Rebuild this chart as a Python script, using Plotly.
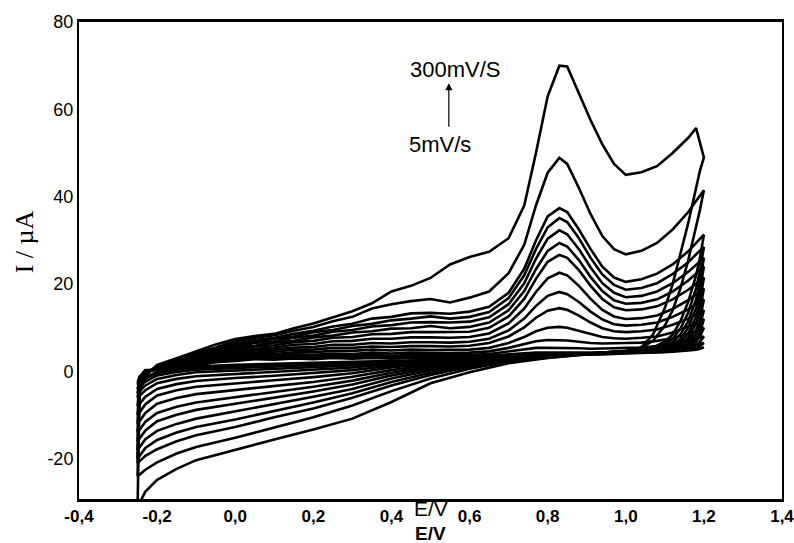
import plotly.graph_objects as go

# Potential grids (V) shared by all scans
E_fwd = [-0.25, -0.245, -0.23, -0.2, -0.15, -0.1, -0.05, 0.0, 0.05, 0.1, 0.15, 0.2, 0.25, 0.3,
         0.35, 0.4, 0.45, 0.5, 0.55, 0.6, 0.65, 0.7, 0.74, 0.77, 0.8, 0.83, 0.85, 0.88, 0.91,
         0.94, 0.97, 1.0, 1.04, 1.08, 1.12, 1.16, 1.18, 1.2]
E_rev = [1.2, 1.19, 1.18, 1.16, 1.14, 1.12, 1.1, 1.07, 1.04, 1.0, 0.95, 0.9, 0.85, 0.8, 0.7,
         0.6, 0.5, 0.4, 0.3, 0.2, 0.1, 0.0, -0.1, -0.15, -0.2, -0.23, -0.25]

scan_rates = [300, 200, 150, 125, 100, 90, 80, 70, 60, 50, 40, 30, 20, 10, 5]  # mV/s

# Anodic (forward) currents, µA
fwd_300 = [-31, -5, -1, 1.5, 3.0, 4.6, 6.2, 7.4, 8.1, 8.6, 9.9, 11.0, 12.4, 13.8, 15.6, 18.3, 19.6, 21.4, 24.5, 26.2, 27.4, 30.5, 38, 50, 63, 70, 69.8, 63.5, 57.5, 52, 47.5, 45, 45.6, 47, 50, 53.5, 55.7, 49]
fwd_200 = [-24, -4, -0.8, 1.3, 2.8, 4.3, 5.5, 6.9, 7.7, 8.3, 9.3, 10.2, 11.5, 12.5, 14.4, 15.4, 16.1, 16.6, 15.8, 16.9, 18.3, 22.5, 29, 38, 45.5, 48.9, 47.5, 42, 36, 31, 28, 26.8, 27.6, 29.4, 32.5, 36.5, 39, 41.5]
fwd_150 = [-21, -3.5, -0.7, 1.2, 2.6, 3.9, 5.3, 6.4, 7.2, 7.7, 8.6, 9.3, 10.3, 10.9, 12.1, 12.5, 13.3, 13.4, 13.2, 13.7, 14.8, 18, 23.5, 30, 35.5, 37.4, 36.5, 32.5, 28, 24, 21.5, 20.5, 21.1, 22.4, 24.5, 27.5, 29.5, 31.3]
fwd_125 = [-20, -3.3, -0.6, 1.1, 2.5, 3.7, 4.9, 6.2, 6.7, 7.5, 8.0, 9.0, 9.5, 10.4, 10.9, 11.7, 12.1, 12.6, 12.1, 12.5, 13.6, 16.8, 22, 28, 33, 35.1, 34.2, 30.5, 26, 22.2, 19.8, 18.7, 19.1, 20.2, 22.3, 25, 26.8, 28.5]
fwd_100 = [-18, -3.1, -0.5, 1.0, 2.3, 3.5, 4.7, 5.7, 6.5, 6.9, 7.7, 8.2, 9.1, 9.5, 10.3, 10.6, 11.2, 11.3, 11.2, 11.4, 12.4, 15.4, 20.2, 25.8, 30.4, 32.3, 31.4, 28, 23.8, 20.2, 18, 17, 17.3, 18.3, 20.2, 22.8, 24.5, 26]
fwd_90 = [-16, -2.9, -0.4, 0.9, 2.1, 3.3, 4.2, 5.5, 5.9, 6.6, 7.0, 7.8, 8.2, 8.9, 9.2, 9.8, 9.9, 10.4, 9.9, 10.2, 11.2, 14, 18.4, 23.4, 27.6, 29.4, 28.6, 25.5, 21.6, 18.4, 16.3, 15.5, 15.7, 16.5, 18.3, 20.8, 22.4, 24]
fwd_80 = [-14, -2.7, -0.3, 0.8, 2.0, 3.1, 4.2, 5.0, 5.7, 6.0, 6.7, 7.0, 7.7, 7.9, 8.5, 8.6, 9.0, 9.0, 9.0, 9.1, 10.0, 12.6, 16.6, 21.2, 25.1, 26.7, 26.0, 23.2, 19.6, 16.6, 14.7, 14, 14.2, 14.9, 16.5, 18.7, 20.1, 21.5]
fwd_70 = [-12, -2.5, -0.2, 0.7, 1.8, 2.8, 3.9, 4.6, 5.2, 5.5, 6.1, 6.3, 6.9, 7.0, 7.5, 7.5, 7.8, 7.8, 7.7, 7.9, 8.7, 11, 14.4, 18.2, 21.3, 22.6, 22, 19.6, 16.6, 14.1, 12.6, 12, 12.2, 12.8, 14.3, 16.3, 17.6, 19]
fwd_60 = [-10, -2.3, -0.1, 0.6, 1.6, 2.5, 3.5, 4.2, 4.8, 5.0, 5.5, 5.6, 6.1, 6.1, 6.5, 6.4, 6.7, 6.7, 6.6, 6.8, 7.5, 9.4, 12.1, 15, 17.3, 18.2, 17.7, 15.9, 13.7, 11.9, 10.8, 10.5, 10.7, 11.2, 12.5, 14.2, 15.3, 16.5]
fwd_50 = [-8, -2.1, 0, 0.6, 1.5, 2.3, 3.2, 3.8, 4.3, 4.5, 5.0, 5.0, 5.4, 5.4, 5.7, 5.6, 5.8, 5.8, 5.7, 5.9, 6.5, 8.0, 10.1, 12.3, 13.9, 14.5, 14.1, 12.8, 11.2, 9.9, 9.2, 9, 9.2, 9.6, 10.7, 12.1, 13, 14]
fwd_40 = [-6, -1.9, 0.1, 0.5, 1.3, 2.0, 2.9, 3.4, 3.9, 4.0, 4.4, 4.4, 4.7, 4.7, 5.0, 4.8, 5.0, 4.9, 4.9, 5.0, 5.4, 6.5, 7.9, 9.2, 10.0, 10.2, 10.0, 9.3, 8.5, 7.9, 7.6, 7.5, 7.7, 8.0, 8.9, 10.2, 11, 12]
fwd_30 = [-5, -1.8, 0.1, 0.5, 1.2, 1.9, 2.6, 3.1, 3.5, 3.5, 3.9, 3.8, 4.1, 4.0, 4.3, 4.1, 4.3, 4.2, 4.2, 4.3, 4.6, 5.4, 6.3, 6.9, 7.2, 7.2, 7.1, 6.8, 6.5, 6.4, 6.4, 6.5, 6.6, 7.0, 7.6, 8.6, 9.2, 10]
fwd_20 = [-4, -1.6, 0.2, 0.4, 1.1, 1.7, 2.4, 2.8, 3.2, 3.2, 3.5, 3.4, 3.7, 3.5, 3.8, 3.6, 3.8, 3.7, 3.7, 3.8, 4.0, 4.6, 5.1, 5.4, 5.4, 5.4, 5.4, 5.3, 5.2, 5.2, 5.3, 5.4, 5.5, 5.8, 6.3, 7.0, 7.5, 8]
fwd_10 = [-3, -1.4, 0.2, 0.4, 1.0, 1.6, 2.2, 2.6, 3.0, 2.9, 3.2, 3.1, 3.3, 3.2, 3.4, 3.2, 3.4, 3.3, 3.4, 3.4, 3.6, 3.9, 4.2, 4.3, 4.3, 4.3, 4.3, 4.3, 4.3, 4.3, 4.4, 4.5, 4.6, 4.8, 5.2, 5.7, 6.1, 6.5]
fwd_5 = [-2.5, -1.2, 0.3, 0.4, 0.9, 1.5, 2.1, 2.4, 2.8, 2.7, 3.0, 2.8, 3.1, 2.9, 3.1, 3.0, 3.2, 3.0, 3.2, 3.2, 3.3, 3.5, 3.7, 3.8, 3.8, 3.8, 3.8, 3.8, 3.9, 3.9, 4.0, 4.1, 4.2, 4.4, 4.6, 5.0, 5.2, 5.5]

# Cathodic (reverse) currents, µA
rev_300 = [49, 46, 42, 34, 27, 20, 14.5, 8.5, 5.5, 4.6, 4.3, 3.9, 3.5, 3.1, 1.9, -0.2, -2.7, -7.0, -10.8, -13.3, -15.6, -18, -20.3, -22.3, -24.8, -27.5, -31]
rev_200 = [41.5, 37, 33, 25.5, 19, 14, 10.5, 7, 5.5, 4.7, 4.4, 4.0, 3.6, 3.2, 2.3, 0.6, -1.6, -4.5, -7.8, -10.5, -12.8, -15.2, -17.3, -18.8, -20.8, -22.5, -24]
rev_150 = [31.3, 26, 22, 16, 11.5, 8.5, 6.8, 5.5, 4.9, 4.6, 4.4, 4.0, 3.7, 3.3, 2.5, 1.1, -0.8, -3.2, -6.0, -8.5, -10.5, -12.7, -14.6, -16, -17.8, -19.3, -21]
rev_125 = [28.5, 23, 19, 13.5, 9.8, 7.5, 6.2, 5.2, 4.8, 4.6, 4.4, 4.1, 3.7, 3.3, 2.6, 1.4, -0.3, -2.4, -5.0, -7.1, -9.0, -11, -12.7, -14, -15.7, -17.5, -20]
rev_100 = [26, 20.5, 16.5, 11.5, 8.5, 6.7, 5.7, 5.0, 4.7, 4.6, 4.4, 4.1, 3.8, 3.4, 2.7, 1.7, 0.2, -1.6, -4.0, -5.8, -7.5, -9.2, -10.8, -12, -13.6, -15.5, -18]
rev_90 = [24, 18.5, 14.5, 10, 7.5, 6.1, 5.4, 4.9, 4.7, 4.6, 4.4, 4.1, 3.8, 3.4, 2.8, 1.9, 0.6, -0.9, -3.0, -4.6, -6.0, -7.4, -8.8, -9.9, -11.4, -13.5, -16]
rev_80 = [21.5, 16, 12.5, 8.7, 6.8, 5.7, 5.2, 4.8, 4.6, 4.5, 4.3, 4.1, 3.8, 3.5, 2.9, 2.1, 1.0, -0.3, -2.1, -3.5, -4.7, -5.9, -7.1, -8.1, -9.5, -11.5, -14]
rev_70 = [19, 14, 11, 7.8, 6.2, 5.4, 5.0, 4.7, 4.6, 4.5, 4.3, 4.1, 3.9, 3.5, 3.0, 2.3, 1.4, 0.3, -1.2, -2.4, -3.3, -4.2, -5.2, -6.1, -7.4, -9.5, -12]
rev_60 = [16.5, 12, 9.5, 7, 5.8, 5.2, 4.9, 4.7, 4.6, 4.5, 4.3, 4.1, 3.9, 3.6, 3.1, 2.5, 1.8, 0.9, -0.4, -1.3, -2.0, -2.7, -3.5, -4.3, -5.5, -7.5, -10]
rev_50 = [14, 10.5, 8.5, 6.4, 5.5, 5.0, 4.8, 4.6, 4.5, 4.4, 4.3, 4.1, 3.9, 3.6, 3.2, 2.6, 2.0, 1.3, 0.3, -0.4, -1.0, -1.5, -2.2, -2.9, -4.0, -5.8, -8]
rev_40 = [12, 9, 7.5, 6.0, 5.3, 4.9, 4.7, 4.6, 4.5, 4.4, 4.3, 4.1, 3.9, 3.7, 3.2, 2.7, 2.2, 1.7, 0.9, 0.4, -0.1, -0.5, -1.1, -1.7, -2.7, -4.3, -6]
rev_30 = [10, 8, 6.8, 5.6, 5.1, 4.8, 4.6, 4.5, 4.4, 4.4, 4.2, 4.0, 3.9, 3.7, 3.3, 2.8, 2.4, 2.0, 1.4, 1.0, 0.6, 0.3, -0.2, -0.8, -1.7, -3.2, -5]
rev_20 = [8, 6.8, 6.0, 5.3, 4.9, 4.7, 4.6, 4.5, 4.4, 4.3, 4.2, 4.0, 3.9, 3.7, 3.3, 2.9, 2.5, 2.2, 1.8, 1.5, 1.1, 0.8, 0.4, -0.1, -0.9, -2.3, -4]
rev_10 = [6.5, 5.8, 5.4, 5.0, 4.8, 4.6, 4.5, 4.4, 4.3, 4.2, 4.1, 4.0, 3.8, 3.7, 3.3, 2.9, 2.6, 2.3, 2.0, 1.8, 1.5, 1.2, 0.8, 0.4, -0.4, -1.7, -3]
rev_5 = [5.5, 5.2, 5.0, 4.8, 4.6, 4.5, 4.4, 4.3, 4.2, 4.1, 4.0, 3.9, 3.7, 3.6, 3.2, 2.9, 2.6, 2.4, 2.2, 2.0, 1.8, 1.5, 1.1, 0.7, -0.1, -1.3, -2.5]

forward = [fwd_300, fwd_200, fwd_150, fwd_125, fwd_100, fwd_90, fwd_80, fwd_70,
           fwd_60, fwd_50, fwd_40, fwd_30, fwd_20, fwd_10, fwd_5]
reverse = [rev_300, rev_200, rev_150, rev_125, rev_100, rev_90, rev_80, rev_70,
           rev_60, rev_50, rev_40, rev_30, rev_20, rev_10, rev_5]

x_ticks = [-0.4, -0.2, 0.0, 0.2, 0.4, 0.6, 0.8, 1.0, 1.2, 1.4]
x_ticktext = ["-0,4", "-0,2", "0,0", "0,2", "0,4", "0,6", "0,8", "1,0", "1,2", "1,4"]
y_ticks = [-20, 0, 20, 40, 60, 80]
y_ticktext = ["-20", "0", "20", "40", "60", "80"]

fig = go.Figure()
for rate, f, r in zip(scan_rates, forward, reverse):
    assert len(f) == len(E_fwd) and len(r) == len(E_rev)
    fig.add_trace(go.Scatter(
        x=E_fwd + E_rev, y=f + r, mode="lines", name=f"{rate} mV/s",
        line=dict(color="black", width=2.6), showlegend=False, hoverinfo="skip",
    ))

SANS = "Liberation Sans, Arial, sans-serif"
fig.update_layout(
    width=794, height=543,
    margin=dict(l=79, r=12, t=22, b=44),
    paper_bgcolor="white", plot_bgcolor="white",
    font=dict(family=SANS, color="black"),
    xaxis=dict(range=[-0.4, 1.4], tickvals=x_ticks,
               ticktext=[f"<b>{t}</b>" for t in x_ticktext],
               tickfont=dict(size=17, family=SANS, color="black"),
               ticklabeloverflow="allow",
               showline=True, linecolor="black", linewidth=2.5, mirror=True,
               showgrid=False, zeroline=False, ticks="", automargin=False),
    yaxis=dict(range=[-29.2, 80], tickvals=y_ticks, ticktext=y_ticktext,
               tickfont=dict(size=18, family=SANS, color="black"),
               showline=True, linecolor="black", linewidth=2, mirror=True,
               showgrid=False, zeroline=False, ticks="", automargin=False),
    annotations=[
        dict(x=0.547, y=66.0, ax=0.547, ay=55.7, xref="x", yref="y", axref="x", ayref="y",
             text="", showarrow=True, arrowhead=2, arrowsize=1.2, arrowwidth=1.2,
             arrowcolor="black"),
        dict(x=0.563, y=69.2, xref="x", yref="y", text="300mV/S", showarrow=False,
             font=dict(size=22, family=SANS, color="black")),
        dict(x=0.524, y=51.9, xref="x", yref="y", text="5mV/s", showarrow=False,
             font=dict(size=22, family=SANS, color="black")),
        dict(x=0.5, y=-0.02, xref="paper", yref="paper", yanchor="middle", xanchor="center",
             text="E/V", showarrow=False, font=dict(size=21, family=SANS, color="black")),
        dict(x=0.5, y=-0.073, xref="paper", yref="paper", yanchor="middle", xanchor="center",
             text="<b>E/V</b>", showarrow=False, font=dict(size=19, family=SANS, color="black")),
        dict(x=-0.077, y=0.54, xref="paper", yref="paper", textangle=-90,
             xanchor="center", yanchor="middle",
             text="I / µA", showarrow=False,
             font=dict(size=26, family="Liberation Serif, Times New Roman, serif", color="black")),
    ],
)

fig.write_html("out.html", config={"displayModeBar": False},
               post_script="document.body.style.margin='0px';")
